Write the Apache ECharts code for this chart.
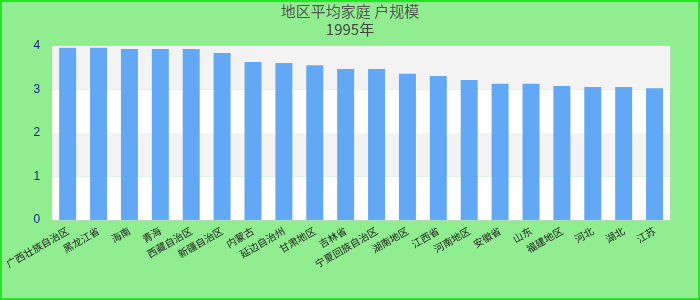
<!DOCTYPE html>
<html>
<head>
<meta charset="utf-8">
<script src="https://cdn.jsdelivr.net/npm/echarts@6/dist/echarts.min.js"></script>
<style>
html,body{margin:0;padding:0;}
#c{width:700px;height:300px;box-sizing:border-box;border:2px solid #22e622;background:#90ee90;}
</style>
</head>
<body>
<div id="c"></div>
<script>
const titleText = '地区平均家庭 户规模';
const subText = '1995年';
const categories = ['广西壮族自治区','黑龙江省','海南','青海','西藏自治区','新疆自治区','内蒙古','延边自治州','甘肃地区','吉林省','宁夏回族自治区','湖南地区','江西省','河南地区','安徽省','山东','福建地区','河北','湖北','江苏'];
const values = [3.96,3.96,3.93,3.93,3.93,3.84,3.63,3.61,3.56,3.47,3.47,3.36,3.31,3.22,3.13,3.13,3.08,3.06,3.06,3.03];
const yTicks = [0,1,2,3,4];

const chart = echarts.init(document.getElementById('c'));
chart.setOption({
  backgroundColor: 'transparent',
  title: {
    text: titleText,
    subtext: subText,
    left: 'center',
    top: -3,
    itemGap: 3,
    textStyle: {fontSize: 15, fontWeight: 'normal', color: '#555', fontFamily: 'Noto Sans CJK SC'},
    subtextStyle: {fontSize: 15, color: '#444', fontFamily: 'Noto Sans CJK SC'}
  },
  grid: {left: 48, right: 28, top: 44, bottom: 78, show: true, borderColor: '#cccccc', borderWidth: 1, backgroundColor: 'transparent'},
  xAxis: {
    type: 'category',
    data: categories,
    axisLine: {show: false},
    axisTick: {show: false},
    axisLabel: {interval: 0, rotate: 30, fontSize: 10, color: '#222', fontFamily: 'Noto Sans CJK SC', margin: 10}
  },
  yAxis: {
    type: 'value',
    min: yTicks[0],
    max: yTicks[yTicks.length - 1],
    interval: 1,
    axisLine: {show: false},
    axisTick: {show: false},
    splitLine: {show: false},
    splitArea: {show: true, areaStyle: {color: ['#ffffff', '#f3f3f3']}},
    axisLabel: {fontSize: 12, color: '#1a1a8c', margin: 12}
  },
  series: [{
    type: 'bar',
    data: values,
    barWidth: '55%',
    itemStyle: {color: '#62a8f4'}
  }]
});
</script>
</body>
</html>
